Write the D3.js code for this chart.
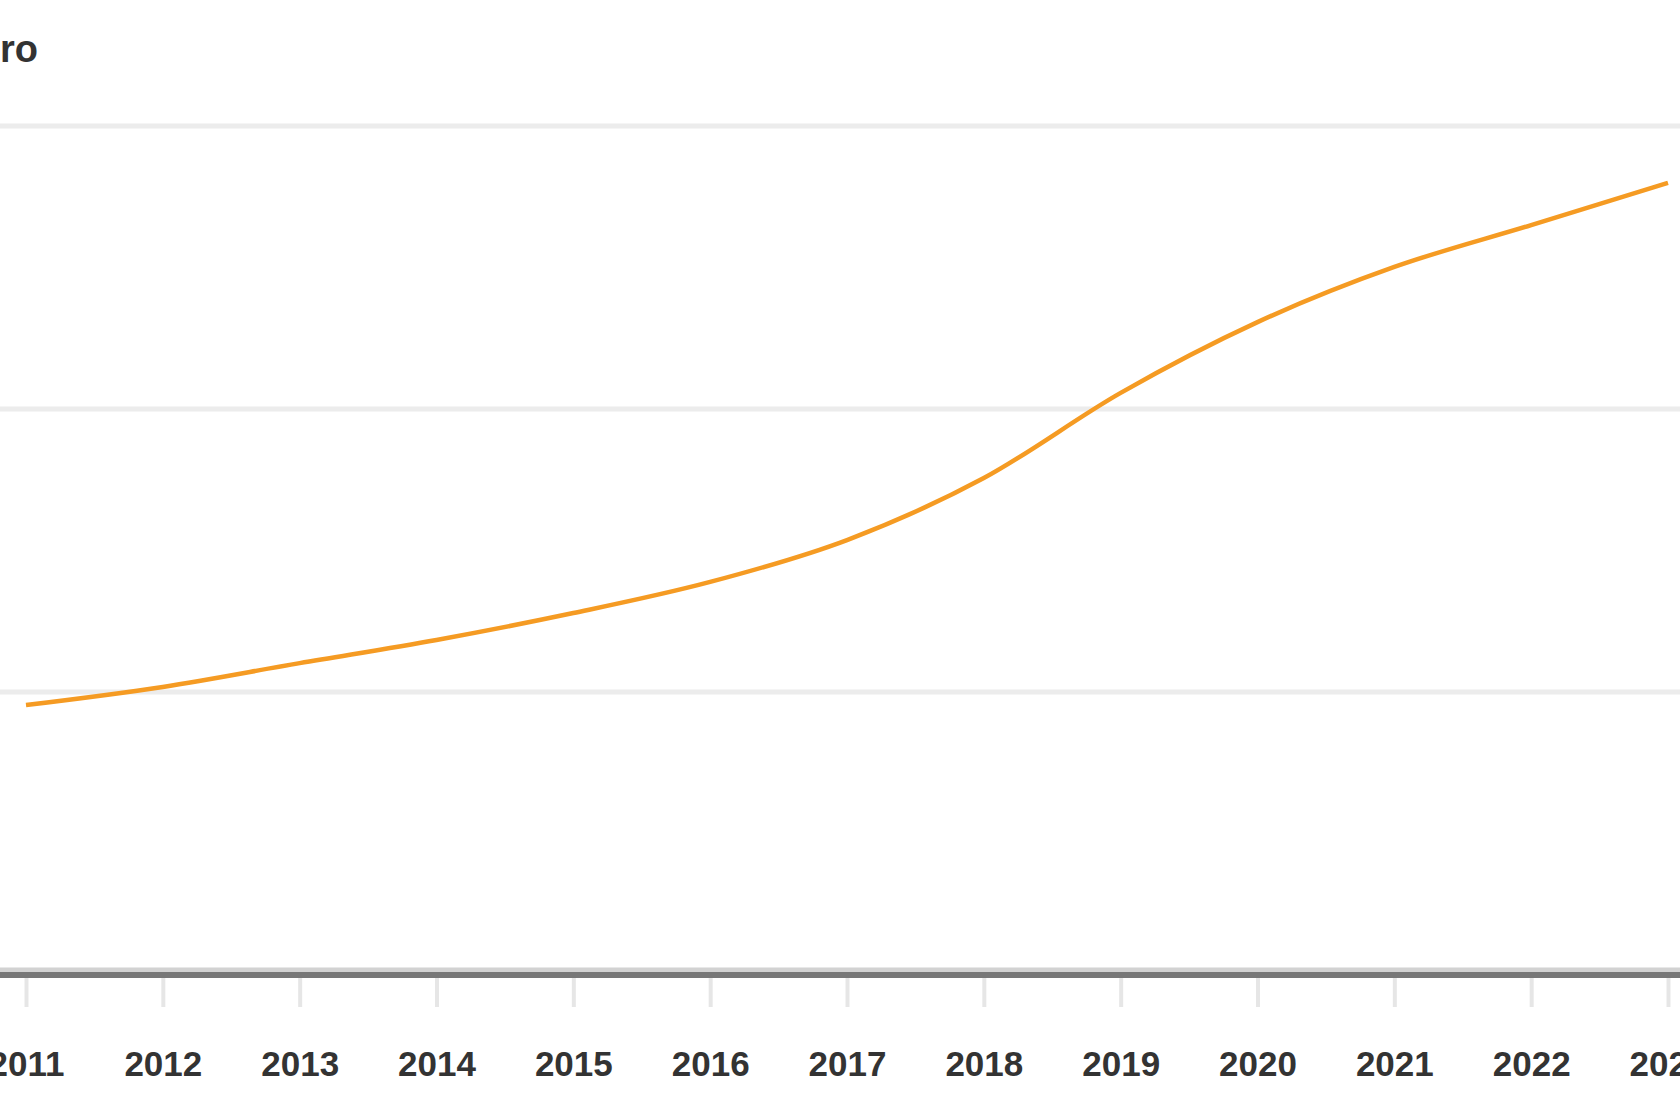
<!DOCTYPE html>
<html>
<head>
<meta charset="utf-8">
<script src="https://cdn.jsdelivr.net/npm/d3@7"></script>
<style>
  html, body { margin: 0; padding: 0; background: #ffffff; overflow: hidden; }
  svg { display: block; }
  text { font-family: "Liberation Sans", Arial, sans-serif; }
</style>
</head>
<body>
<svg id="chart" width="1680" height="1120"></svg>
<script>
// ---- data ----
const years = [2011, 2012, 2013, 2014, 2015, 2016, 2017, 2018, 2019, 2020, 2021, 2022, 2023];
const values = [0.954, 1.018, 1.102, 1.184, 1.279, 1.389, 1.537, 1.756, 2.057, 2.307, 2.502, 2.650, 2.799];
const gridValues = [1, 2, 3];
const tickLabels = ["2011", "2012", "2013", "2014", "2015", "2016", "2017", "2018", "2019", "2020", "2021", "2022", "2023"];
const unitLabel = "Euro";

// ---- layout ----
const W = 1680, H = 1120;
const svg = d3.select("#chart");

const x = d3.scaleLinear().domain([2011, 2023]).range([26, 1668]);
const y = d3.scaleLinear().domain([0, 3]).range([975, 126]);

// gridlines
svg.append("g")
  .selectAll("line")
  .data(gridValues)
  .join("line")
  .attr("x1", 0).attr("x2", W)
  .attr("y1", d => y(d)).attr("y2", d => y(d))
  .attr("stroke", "#ececec")
  .attr("stroke-width", 5);

// x axis
const xAxis = d3.axisBottom(x)
  .tickValues(years)
  .tickFormat((d, i) => tickLabels[i])
  .tickSize(30)
  .tickPadding(44);

const gx = svg.append("g")
  .attr("transform", `translate(0,${y(0) + 2})`)
  .call(xAxis);
gx.select(".domain").remove();
gx.selectAll(".tick line")
  .attr("stroke", "#e6e6e6")
  .attr("stroke-width", 4);
gx.selectAll(".tick text")
  .attr("fill", "#333333")
  .style("font-size", "35px")
  .style("font-weight", "bold")
  .style("font-family", "'Liberation Sans', Arial, sans-serif");

// baseline (two-tone)
svg.append("line")
  .attr("x1", 0).attr("x2", W)
  .attr("y1", y(0) - 5).attr("y2", y(0) - 5)
  .attr("stroke", "#d2d2d2")
  .attr("stroke-width", 5);
svg.append("line")
  .attr("x1", 0).attr("x2", W)
  .attr("y1", y(0)).attr("y2", y(0))
  .attr("stroke", "#777777")
  .attr("stroke-width", 6);

// unit label (cut off at left edge, as in reference)
svg.append("text")
  .attr("x", 38)
  .attr("y", 62)
  .attr("text-anchor", "end")
  .attr("fill", "#333333")
  .style("font-size", "38px")
  .style("font-weight", "bold")
  .text(unitLabel);

// line
const line = d3.line()
  .x((d, i) => x(years[i]))
  .y(d => y(d))
  .curve(d3.curveMonotoneX);

svg.append("path")
  .datum(values)
  .attr("fill", "none")
  .attr("stroke", "#f59b23")
  .attr("stroke-width", 4.5)
  .attr("d", line);
</script>
</body>
</html>
